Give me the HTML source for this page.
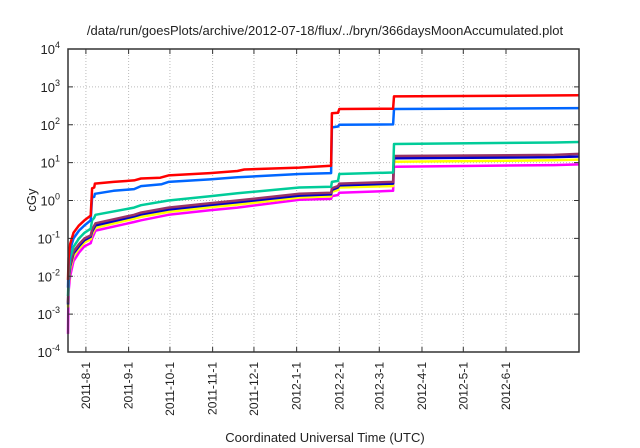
<!DOCTYPE html>
<html><head><meta charset="utf-8"><style>
html,body{margin:0;padding:0;background:#fff;}
svg{display:block;font-family:"Liberation Sans",sans-serif;}
</style></head><body>
<svg id="chart" width="640" height="448">
<text x="325" y="35" font-size="13" text-anchor="middle" fill="#222">/data/run/goesPlots/archive/2012-07-18/flux/../bryn/366daysMoonAccumulated.plot</text>
<text transform="translate(36,200) rotate(-90)" font-size="13" text-anchor="middle" fill="#222">cGy</text>
<text x="325" y="442" font-size="13" text-anchor="middle" fill="#222">Coordinated Universal Time (UTC)</text>
<g id="grid"></g><g id="series"></g><g id="axes"></g>
</svg>
<script>
const tickDays=[0,31,61,92,122,153,184,213,244,274,305];
const tickLabels=["2011-8-1","2011-9-1","2011-10-1","2011-11-1","2011-12-1","2012-1-1","2012-2-1","2012-3-1","2012-4-1","2012-5-1","2012-6-1"];
const yExps=[-4,-3,-2,-1,0,1,2,3,4];
const seriesColors=["#ff0000","#0066ff","#00cc99","#993366","#0000cc","#ffff00","#ff00ff"];
const redDays=[-13,-12.6,-11.5,-9,-5,-1,3.5,4.5,6,6.5,20,35,40,54,60,90,110,115,155,178,178.6,183,184,223,223.7,358];
const redVals=[0.008,0.03,0.07,0.14,0.22,0.3,0.4,2.1,2.2,2.8,3.1,3.4,3.8,4.0,4.6,5.3,6.0,6.6,7.4,8.3,200,207,260,265,560,600];
const blueDays=[-13,-12.6,-11.5,-9,-5,-1,3.5,4.5,6,6.5,20,35,40,55,60,90,110,155,178,178.6,183,184,223,223.7,358];
const blueVals=[0.005,0.02,0.05,0.1,0.16,0.22,0.3,1.2,1.25,1.5,1.8,2.0,2.4,2.7,3.1,3.6,4.1,5.0,5.3,85,90,100,102,260,275];
const greenDays=[-13,-12.6,-11.5,-9,-5,-1,3.5,4.5,6,7,35,40,60,90,110,155,178,178.6,183,184,223,223.7,260,340,358];
const greenVals=[0.003,0.01,0.03,0.06,0.1,0.14,0.18,0.3,0.35,0.42,0.65,0.75,1.0,1.3,1.55,2.2,2.3,3.1,3.3,5.0,5.5,31,32,34,35];
const purpleDays=[-13,-12.6,-11.5,-9,-5,-1,3.5,4.5,7,35,40,60,90,110,155,178,178.6,183,184,223,223.7,340,358];
const purpleVals=[0.002,0.008,0.02,0.045,0.07,0.1,0.12,0.17,0.25,0.42,0.48,0.65,0.85,1.0,1.5,1.6,2.1,2.4,2.8,3.1,15,16,17];
const dblueDays=[-13,-12.6,-11.5,-9,-5,-1,3.5,4.5,7,35,40,60,90,110,155,178,178.6,183,184,223,223.7,340,358];
const dblueVals=[0.0018,0.007,0.018,0.04,0.062,0.09,0.11,0.15,0.22,0.38,0.43,0.58,0.76,0.9,1.35,1.45,1.9,2.2,2.5,2.8,13,14,14.5];
const yellowDays=[-13,-12.6,-11.5,-9,-5,-1,3.5,4.5,7,35,40,60,90,110,155,178,178.6,183,184,223,223.7,340,358];
const yellowVals=[0.0015,0.006,0.015,0.034,0.054,0.078,0.095,0.13,0.19,0.33,0.37,0.5,0.66,0.78,1.2,1.3,1.7,1.9,2.2,2.4,10.5,11.5,12];
const magentaDays=[-13,-12.85,-12.6,-11.5,-9,-5,-1,3.5,4.5,7,35,40,60,90,110,155,178,178.6,183,184,223,223.7,340,358];
const magentaVals=[0.0003,0.001,0.004,0.01,0.025,0.042,0.062,0.075,0.1,0.16,0.27,0.3,0.42,0.55,0.65,1.05,1.1,1.3,1.4,1.6,1.8,7.8,8.6,9];
const allDays=[redDays,blueDays,greenDays,purpleDays,dblueDays,yellowDays,magentaDays];
const allVals=[redVals,blueVals,greenVals,purpleVals,dblueVals,yellowVals,magentaVals];
const seriesNames=["series-red","series-blue","series-green","series-purple","series-dark-blue","series-yellow","series-magenta"];

const L=68,R=579,T=49,B=352,D0=-13,D1=358;
const NS="http://www.w3.org/2000/svg";
function x(d){return L+(d-D0)/(D1-D0)*(R-L);}
function y(v){return B-(Math.log10(v)+4)/8*(B-T);}
function mk(tag,attrs,parent){const e=document.createElementNS(NS,tag);for(const k in attrs)e.setAttribute(k,attrs[k]);parent.appendChild(e);return e;}
const grid=document.getElementById('grid'),axes=document.getElementById('axes'),ser=document.getElementById('series');
tickDays.forEach((d,i)=>{
  const g=mk('line',{x1:x(d),x2:x(d),y1:T,y2:B,stroke:'#bbb','stroke-width':1,'stroke-dasharray':'1,2'},grid);
  
  
  mk('line',{x1:x(d),x2:x(d),y1:B,y2:B-5,stroke:'#333'},axes);
  mk('line',{x1:x(d),x2:x(d),y1:T,y2:T+5,stroke:'#333'},axes);
  const t=mk('text',{transform:`translate(${x(d)+4},${B+10}) rotate(-90)`,'font-size':12,'text-anchor':'end',fill:'#222'},axes);
  t.textContent=tickLabels[i];
  
  
});
yExps.forEach(e=>{
  const yy=y(Math.pow(10,e));
  if(e>-4&&e<4){const g=mk('line',{x1:L,x2:R,y1:yy,y2:yy,stroke:'#bbb','stroke-width':1,'stroke-dasharray':'1,2'},grid);
  
  }
  mk('line',{x1:L,x2:L+5,y1:yy,y2:yy,stroke:'#333'},axes);
  mk('line',{x1:R,x2:R-5,y1:yy,y2:yy,stroke:'#333'},axes);
  const t=mk('text',{x:L-8,y:yy+5,'font-size':13,'text-anchor':'end',fill:'#222'},axes);
  t.innerHTML='10<tspan dy="-6" font-size="9">'+e+'</tspan>';
  
  
});
const fr=mk('rect',{x:L,y:T,width:R-L,height:B-T,fill:'none',stroke:'#333','stroke-width':1.5},axes);


for(let s=allDays.length-1;s>=0;s--){
  const pts=allDays[s].map((d,i)=>x(d).toFixed(1)+','+y(allVals[s][i]).toFixed(1)).join(' ');
  const p=mk('polyline',{points:pts,fill:'none',stroke:seriesColors[s],'stroke-width':2.5,'stroke-linejoin':'round'},ser);
  
  
}
</script>
</body></html>
